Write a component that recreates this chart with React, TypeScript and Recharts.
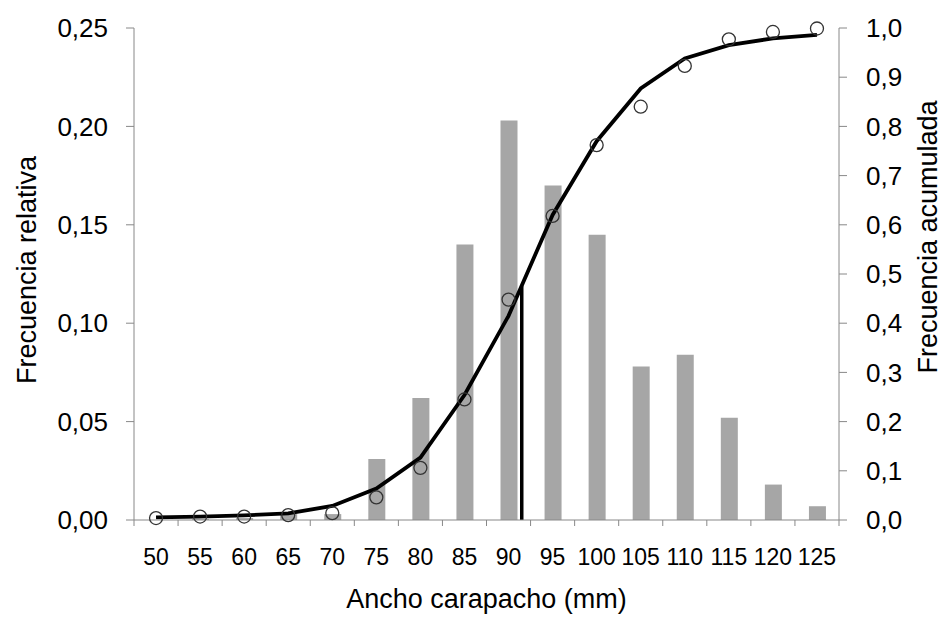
import React from 'react';
import { ComposedChart, Bar, Line, XAxis, YAxis, ReferenceLine } from 'recharts';

const sizeClasses = [50, 55, 60, 65, 70, 75, 80, 85, 90, 95, 100, 105, 110, 115, 120, 125];
const relativeFreq = [0, 0.0005, 0.001, 0.003, 0.003, 0.031, 0.062, 0.14, 0.203, 0.17, 0.145, 0.078, 0.084, 0.052, 0.018, 0.007];
const cumulativeObs = [0.004, 0.007, 0.007, 0.01, 0.014, 0.046, 0.106, 0.245, 0.448, 0.618, 0.762, 0.84, 0.923, 0.977, 0.992, 0.999];
const fittedCurve = [0.0055, 0.007, 0.0095, 0.0135, 0.0285, 0.064, 0.127, 0.254, 0.415, 0.62, 0.77, 0.877, 0.938, 0.965, 0.979, 0.986];
const binEdges = [47.5, 52.5, 57.5, 62.5, 67.5, 72.5, 77.5, 82.5, 87.5, 92.5, 97.5, 102.5, 107.5, 112.5, 117.5, 122.5, 127.5];
const leftTicks = [0, 0.05, 0.1, 0.15, 0.2, 0.25];
const rightTicks = [0, 0.1, 0.2, 0.3, 0.4, 0.5, 0.6, 0.7, 0.8, 0.9, 1];
const L50 = 91.5;
const L50_TOP = 0.475;

const data = sizeClasses.map((x, i) => ({
  x,
  rel: relativeFreq[i],
  cum: cumulativeObs[i],
  fit: fittedCurve[i],
}));

const xTicks = [...binEdges, ...sizeClasses].sort((a, b) => a - b);

const AXIS = '#888888';
const FONT = '"Liberation Sans", Arial, sans-serif';

const XTick = (props: any) => {
  const { x, y, payload } = props;
  const v = payload.value;
  if (v % 5 !== 0) {
    return <line x1={x} x2={x} y1={y} y2={y + 6} stroke={AXIS} strokeWidth={1} />;
  }
  return (
    <text x={x} y={y + 45} textAnchor="middle" fontSize={23} fill="#000" fontFamily={FONT}>
      {String(v)}
    </text>
  );
};

const verticalTitle = (text: string, fromRight: boolean, inset: number, shift: number) => (p: any) => {
  const vb = p.viewBox || {};
  const cx = fromRight ? vb.x + vb.width - inset : vb.x + inset;
  const cy = vb.y + vb.height / 2 + shift;
  return (
    <text
      x={cx}
      y={cy}
      dy="0.36em"
      transform={`rotate(-90 ${cx} ${cy})`}
      textAnchor="middle"
      fontSize={27}
      fill="#000"
      fontFamily={FONT}
    >
      {text}
    </text>
  );
};

export default function App() {
  return (
    <div style={{ width: 940, height: 610, fontFamily: FONT, background: '#fff' }}>
      <ComposedChart width={940} height={610} data={data} margin={{ top: 20, right: 0, bottom: 0, left: 0 }}>
        <XAxis
          dataKey="x"
          type="number"
          domain={[47.5, 127.5]}
          ticks={xTicks}
          interval={0}
          tick={<XTick />}
          tickLine={false}
          tickSize={0}
          tickMargin={0}
          height={98}
          stroke={AXIS}
          axisLine={{ stroke: AXIS, strokeWidth: 1 }}
          allowDataOverflow
          label={{ value: 'Ancho carapacho (mm)', position: 'insideBottom', offset: 10, style: { fontSize: 27, fill: '#000', fontFamily: FONT } }}
        />
        <YAxis
          yAxisId="left"
          orientation="left"
          width={126}
          domain={[0, 0.25]}
          ticks={leftTicks}
          interval={0}
          tickFormatter={(v: number) => v.toFixed(2).replace('.', ',')}
          tick={{ fontSize: 26, fill: '#000', fontFamily: FONT }}
          tickSize={8}
          tickMargin={18}
          stroke={AXIS}
          label={{ content: verticalTitle('Frecuencia relativa', false, 18, -4) }}
        />
        <YAxis
          yAxisId="right"
          orientation="right"
          width={109}
          domain={[0, 1]}
          ticks={rightTicks}
          interval={0}
          tickFormatter={(v: number) => v.toFixed(1).replace('.', ',')}
          tick={{ fontSize: 26, fill: '#000', fontFamily: FONT }}
          tickSize={8}
          tickMargin={19}
          stroke={AXIS}
          label={{ content: verticalTitle('Frecuencia acumulada', true, 21, -37) }}
        />
        <Bar yAxisId="left" dataKey="rel" fill="#a6a6a6" barSize={17} isAnimationActive={false} />
        <ReferenceLine
          yAxisId="right"
          segment={[{ x: L50, y: 0 }, { x: L50, y: L50_TOP }]}
          stroke="#000"
          strokeWidth={3.5}
        />
        <Line yAxisId="right" dataKey="fit" type="linear" stroke="#000" strokeWidth={3.8} dot={false} activeDot={false} isAnimationActive={false} />
        <Line
          yAxisId="right"
          dataKey="cum"
          type="linear"
          stroke="none"
          dot={{ r: 6.5, fill: 'none', stroke: '#333', strokeWidth: 1.3 }}
          activeDot={false}
          isAnimationActive={false}
        />
      </ComposedChart>
    </div>
  );
}
